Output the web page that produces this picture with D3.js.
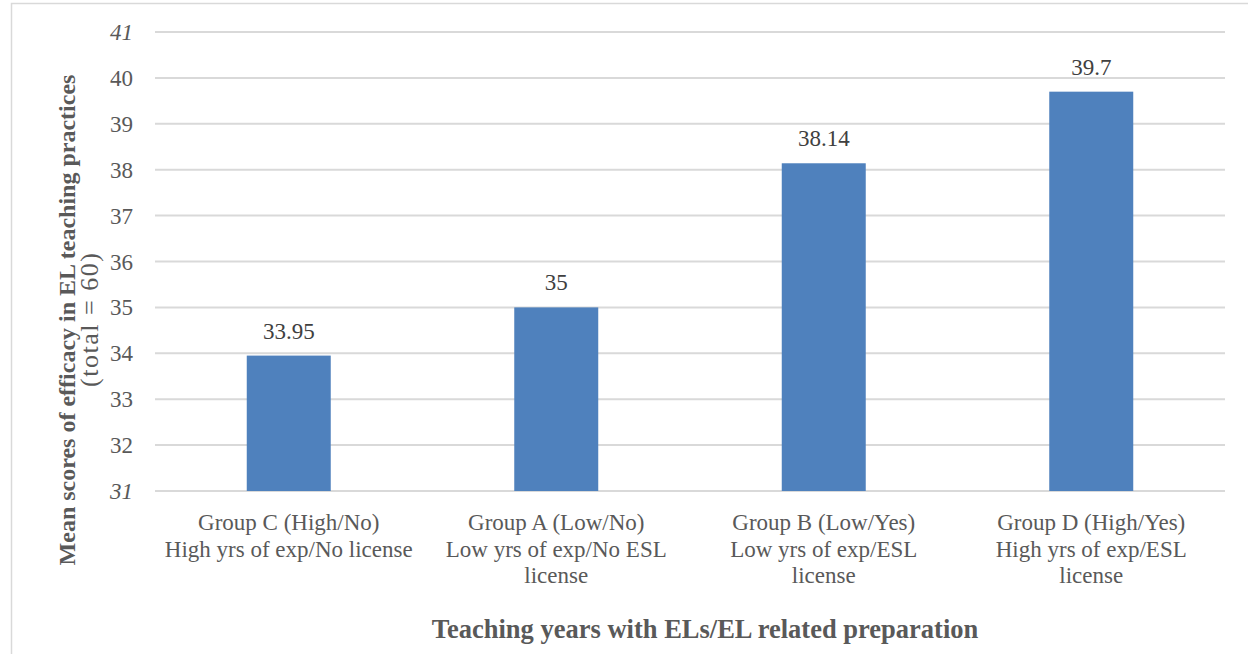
<!DOCTYPE html>
<html>
<head>
<meta charset="utf-8">
<script src="https://cdn.jsdelivr.net/npm/d3@7/dist/d3.min.js"></script>
<style>
  html, body { margin: 0; padding: 0; background: #fff; }
  svg { display: block; font-family: "Liberation Serif", "Times New Roman", serif; }
</style>
</head>
<body>
<svg id="chart" width="1248" height="654"></svg>
<script>
// Group names (first line) and descriptions (following lines)
const groups = ["Group C (High/No)", "Group A (Low/No)", "Group B (Low/Yes)", "Group D (High/Yes)"];
const descriptions = [
  ["High yrs of exp/No license"],
  ["Low yrs of exp/No ESL", "license"],
  ["Low yrs of exp/ESL", "license"],
  ["High yrs of exp/ESL", "license"]
];
const meanScores = [33.95, 35, 38.14, 39.7];
const scoreLabels = ["33.95", "35", "38.14", "39.7"];
const yTicks = [31, 32, 33, 34, 35, 36, 37, 38, 39, 40, 41];
const italicTicks = [31, 41];

const svg = d3.select("#chart");

// chart area frame
svg.append("rect")
  .attr("x", 11.5).attr("y", 3.5)
  .attr("width", 1260).attr("height", 680)
  .attr("fill", "none").attr("stroke", "#d9d9d9").attr("stroke-width", 1.5);

const plot = { left: 155, right: 1225, top: 32, bottom: 491 };

const x = d3.scaleBand()
  .domain(groups)
  .range([plot.left, plot.right])
  .padding(0);

const y = d3.scaleLinear()
  .domain([31, 41])
  .range([plot.bottom, plot.top]);

const barWidth = x.bandwidth() * 0.314;

// horizontal gridlines
svg.append("g")
  .selectAll("line")
  .data(yTicks)
  .join("line")
  .attr("x1", plot.left).attr("x2", plot.right)
  .attr("y1", d => y(d)).attr("y2", d => y(d))
  .attr("stroke", "#d9d9d9").attr("stroke-width", 2);

// y tick labels
svg.append("g")
  .selectAll("text")
  .data(yTicks)
  .join("text")
  .attr("x", 133)
  .attr("y", d => y(d))
  .attr("dy", "0.35em")
  .attr("text-anchor", "end")
  .attr("font-size", 23)
  .attr("font-style", d => italicTicks.includes(d) ? "italic" : "normal")
  .attr("fill", "#595959")
  .text(d => d);

// bars
svg.append("g")
  .selectAll("rect")
  .data(meanScores)
  .join("rect")
  .attr("x", (d, i) => x(groups[i]) + x.bandwidth() / 2 - barWidth / 2)
  .attr("y", d => y(d))
  .attr("width", barWidth)
  .attr("height", d => y(31) - y(d))
  .attr("fill", "#4f81bd");

// value labels
svg.append("g")
  .selectAll("text")
  .data(meanScores)
  .join("text")
  .attr("x", (d, i) => x(groups[i]) + x.bandwidth() / 2)
  .attr("y", d => y(d) - 17)
  .attr("text-anchor", "middle")
  .attr("font-size", 23)
  .attr("fill", "#404040")
  .text((d, i) => scoreLabels[i]);

// category labels
const cat = svg.append("g")
  .selectAll("text")
  .data(groups)
  .join("text")
  .attr("text-anchor", "middle")
  .attr("font-size", 23)
  .attr("fill", "#595959");
cat.each(function(g, i) {
  const t = d3.select(this);
  const cx = x(g) + x.bandwidth() / 2;
  [g].concat(descriptions[i]).forEach((line, k) => {
    t.append("tspan").attr("x", cx).attr("y", 530 + k * 26.5).text(line);
  });
});

// y axis title
svg.append("text")
  .attr("transform", "rotate(-90)")
  .attr("x", -320).attr("y", 75)
  .attr("text-anchor", "middle")
  .attr("fill", "#595959")
  .attr("font-size", 24).attr("font-weight", "bold")
  .text("Mean scores of efficacy in EL teaching practices");
svg.append("text")
  .attr("transform", "rotate(-90)")
  .attr("x", -320).attr("y", 98)
  .attr("text-anchor", "middle")
  .attr("fill", "#595959")
  .attr("font-size", 26)
  .attr("textLength", 134)
  .attr("lengthAdjust", "spacing")
  .text("(total = 60)");

// x axis title
svg.append("text")
  .attr("x", 705).attr("y", 638)
  .attr("text-anchor", "middle")
  .attr("font-size", 26.5).attr("font-weight", "bold")
  .attr("fill", "#595959")
  .text("Teaching years with ELs/EL related preparation");
</script>
</body>
</html>
